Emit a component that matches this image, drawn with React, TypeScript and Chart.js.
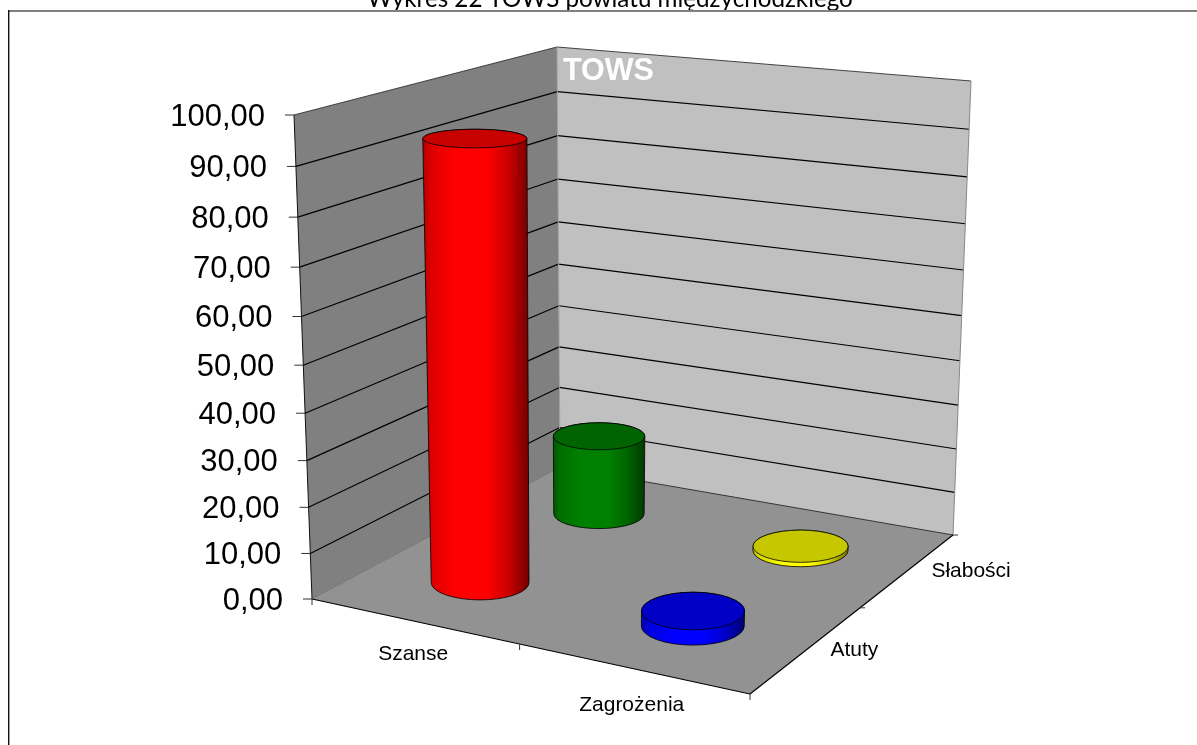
import React, { useEffect, useRef } from "react";
import { Chart, registerables } from "chart.js";

Chart.register(...registerables);

const CATEGORIES = ["Szanse", "Zagrożenia"];
const SERIES = ["Atuty", "Słabości"];
const ATUTY_VALUES = [93.6, 3.2];
const SLABOSCI_VALUES = [18.5, 1.0];
const ATUTY_COLORS = ["#ff0000", "#0000ff"];
const SLABOSCI_COLORS = ["#008000", "#ffff00"];
const TITLE = "Wykres 22 TOWS powiatu międzychodzkiego";
const WALL_LABEL = "TOWS";

type Pt = [number, number];

// Projection of the 3D box: corners of the floor and of the top plane
const FLOOR: Pt[] = [[312, 599], [750, 694], [953, 535], [560, 467]];
const TOP: Pt[] = [[294, 115], [760, 160], [971, 81], [557, 47]];
const PERSPECTIVE_K = 0.07;
const RADIUS = 0.102;

function squareToQuad(q: Pt[]) {
  const [[x0, y0], [x1, y1], [x2, y2], [x3, y3]] = q;
  const dx1 = x1 - x2, dx2 = x3 - x2, sx = x0 - x1 + x2 - x3;
  const dy1 = y1 - y2, dy2 = y3 - y2, sy = y0 - y1 + y2 - y3;
  const det = dx1 * dy2 - dx2 * dy1;
  const g = (sx * dy2 - dx2 * sy) / det;
  const h = (dx1 * sy - sx * dy1) / det;
  const a = x1 - x0 + g * x1, b = x3 - x0 + h * x3;
  const d = y1 - y0 + g * y1, e = y3 - y0 + h * y3;
  return (u: number, v: number): Pt => {
    const w = g * u + h * v + 1;
    return [(a * u + b * v + x0) / w, (d * u + e * v + y0) / w];
  };
}
const floorMap = squareToQuad(FLOOR);
const topMap = squareToQuad(TOP);

function project(u: number, v: number, h: number): Pt {
  const f = floorMap(u, v);
  const t = topMap(u, v);
  const w = h / (1 + PERSPECTIVE_K * (1 - h));
  return [f[0] + (t[0] - f[0]) * w, f[1] + (t[1] - f[1]) * w];
}

function ring(u: number, v: number, h: number) {
  let minX = 1e9, maxX = -1e9, minY = 1e9, maxY = -1e9;
  for (let i = 0; i < 72; i++) {
    const a = (i / 72) * Math.PI * 2;
    const [x, y] = project(u + RADIUS * Math.cos(a), v + RADIUS * Math.sin(a), h);
    minX = Math.min(minX, x); maxX = Math.max(maxX, x);
    minY = Math.min(minY, y); maxY = Math.max(maxY, y);
  }
  return { cx: (minX + maxX) / 2, cy: (minY + maxY) / 2, rx: (maxX - minX) / 2, ry: (maxY - minY) / 2 };
}

function shade(hex: string, f: number) {
  const n = parseInt(hex.slice(1), 16);
  const c = [(n >> 16) & 255, (n >> 8) & 255, n & 255].map((x) => Math.round(x * f));
  return `rgb(${c[0]},${c[1]},${c[2]})`;
}

function poly(ctx: CanvasRenderingContext2D, pts: Pt[], fill: string) {
  ctx.beginPath();
  pts.forEach((p, i) => (i ? ctx.lineTo(p[0], p[1]) : ctx.moveTo(p[0], p[1])));
  ctx.closePath();
  ctx.fillStyle = fill;
  ctx.fill();
}
function seg(ctx: CanvasRenderingContext2D, a: Pt, b: Pt, color: string, w = 1) {
  ctx.beginPath();
  ctx.moveTo(a[0], a[1]);
  ctx.lineTo(b[0], b[1]);
  ctx.strokeStyle = color;
  ctx.lineWidth = w;
  ctx.stroke();
}

function cylinder(ctx: CanvasRenderingContext2D, u: number, v: number, h: number, color: string) {
  const b = ring(u, v, 0);
  const t = ring(u, v, h);
  const left = Math.min(b.cx - b.rx, t.cx - t.rx);
  const right = Math.max(b.cx + b.rx, t.cx + t.rx);
  const g = ctx.createLinearGradient(left, 0, right, 0);
  g.addColorStop(0, shade(color, 0.68));
  g.addColorStop(0.07, shade(color, 0.86));
  g.addColorStop(0.3, shade(color, 1));
  g.addColorStop(0.6, shade(color, 1));
  g.addColorStop(0.8, shade(color, 0.8));
  g.addColorStop(1, shade(color, 0.45));
  ctx.beginPath();
  ctx.ellipse(b.cx, b.cy, b.rx, b.ry, 0, Math.PI, 0, true);
  ctx.lineTo(t.cx + t.rx, t.cy);
  ctx.ellipse(t.cx, t.cy, t.rx, t.ry, 0, 0, -Math.PI, true);
  ctx.closePath();
  ctx.fillStyle = g;
  ctx.fill();
  ctx.strokeStyle = "rgba(0,0,0,0.8)";
  ctx.lineWidth = 1;
  ctx.stroke();
  ctx.beginPath();
  ctx.ellipse(t.cx, t.cy, t.rx, t.ry, 0, 0, Math.PI * 2);
  ctx.fillStyle = shade(color, 0.78);
  ctx.fill();
  ctx.stroke();
}

const scene3d = {
  id: "scene3d",
  beforeDatasetDraw: () => false,
  beforeDatasetsDraw(chart: any) {
    const ctx: CanvasRenderingContext2D = chart.ctx;
    const { x: xs, y: ys, z: zs } = chart.scales;
    const dec = (s: any, px: number) => s.getDecimalForPixel(px);
    ctx.save();

    // title, clipped by the page top, and frame
    ctx.fillStyle = "#000";
    ctx.font = '24.2px "Lato"';
    ctx.textAlign = "center";
    ctx.textBaseline = "alphabetic";
    ctx.fillText(TITLE, 610, 7);
    ctx.fillStyle = "#fff";
    ctx.fillRect(0, 10, 1197, 735);
    ctx.fillStyle = "#808080";
    ctx.fillRect(8, 10, 1189, 2);
    ctx.fillStyle = "#111";
    ctx.fillRect(8, 10, 1.4, 735);

    // walls and floor
    poly(ctx, [project(0, 0, 0), project(0, 1, 0), project(0, 1, 1), project(0, 0, 1)], "#808080");
    poly(ctx, [project(0, 1, 0), project(1, 1, 0), project(1, 1, 1), project(0, 1, 1)], "#c0c0c0");
    poly(ctx, [project(0, 0, 0), project(1, 0, 0), project(1, 1, 0), project(0, 1, 0)], "#929292");

    ctx.font = '31px "Liberation Sans"';
    ctx.textAlign = "right";
    ctx.textBaseline = "middle";
    for (const tick of ys.ticks) {
      const h = dec(ys, ys.getPixelForValue(tick.value));
      const p0 = project(0, 0, h), p1 = project(0, 1, h), p2 = project(1, 1, h);
      const inner = h > 0 && h < 1;
      if (h > 0) {
        seg(ctx, p0, p1, inner ? "#000" : "#444", 1.2);
        seg(ctx, p1, p2, inner ? "#000" : "#444", 1.2);
      }
      seg(ctx, p0, [p0[0] - 9, p0[1]], "#333");
      ctx.fillStyle = "#000";
      ctx.fillText(tick.label, p0[0] - 29, p0[1] + 2);
    }
    // box edges
    seg(ctx, project(0, 0, 0), project(0, 0, 1), "#111");
    seg(ctx, project(0, 1, 0), project(0, 1, 1), "#a0a0a0");
    seg(ctx, project(1, 1, 0), project(1, 1, 1), "#888");
    seg(ctx, project(0, 0, 0), project(0, 1, 0), "#777");
    seg(ctx, project(0, 1, 0), project(1, 1, 0), "#333");
    seg(ctx, project(0, 0, 0), project(1, 0, 0), "#000", 1.2);
    seg(ctx, project(1, 0, 0), project(1, 1, 0), "#000", 1.2);

    // axis ticks
    for (const u of [0, 0.5, 1]) {
      const p = project(u, 0, 0);
      seg(ctx, p, [p[0], p[1] + 6], "#333");
    }
    for (const v of [0.5, 1]) {
      const p = project(1, v, 0);
      seg(ctx, p, [p[0] + 5, p[1]], "#333");
    }

    // axis labels
    ctx.font = '21px "Liberation Sans"';
    ctx.textAlign = "center";
    ctx.fillStyle = "#000";
    CATEGORIES.forEach((label, i) => {
      const u = dec(xs, xs.getPixelForValue(i));
      const p = project(u, 0, 0);
      ctx.fillText(label, p[0], p[1] + 31 + 8 * u);
    });
    ctx.textAlign = "left";
    SERIES.forEach((label, i) => {
      const p = project(1, dec(zs, zs.getPixelForValue(i)), 0);
      ctx.fillText(label, p[0] + 23, p[1] + 1);
    });

    ctx.font = 'bold 30.5px "Liberation Sans"';
    ctx.textBaseline = "alphabetic";
    ctx.fillStyle = "#fff";
    ctx.fillText(WALL_LABEL, 563, 80);

    // cylinders, back row first
    for (let ds = chart.data.datasets.length - 1; ds >= 0; ds--) {
      const dataset = chart.data.datasets[ds];
      const v = dec(zs, zs.getPixelForValue(ds));
      dataset.data.forEach((val: number, i: number) => {
        const u = dec(xs, xs.getPixelForValue(i));
        const h = dec(ys, ys.getPixelForValue(val));
        cylinder(ctx, u, v, h, dataset.backgroundColor[i]);
      });
    }
    ctx.restore();
  },
};

export default function App() {
  const ref = useRef<HTMLCanvasElement>(null);
  useEffect(() => {
    const chart = new Chart(ref.current as HTMLCanvasElement, {
      type: "bar",
      data: {
        labels: CATEGORIES,
        datasets: [
          { label: SERIES[0], data: ATUTY_VALUES, backgroundColor: ATUTY_COLORS },
          { label: SERIES[1], data: SLABOSCI_VALUES, backgroundColor: SLABOSCI_COLORS },
        ],
      },
      options: {
        animation: false,
        responsive: false,
        layout: { padding: { left: 312, right: 447, top: 115, bottom: 146 } },
        plugins: { legend: { display: false }, tooltip: { enabled: false }, title: { display: false } },
        scales: {
          x: { type: "category", offset: true, display: false },
          z: { type: "category", axis: "x", position: "bottom", labels: SERIES, offset: true, display: false },
          y: {
            type: "linear",
            min: 0,
            max: 100,
            display: false,
            ticks: { stepSize: 10, callback: (v: any) => Number(v).toFixed(2).replace(".", ",") },
          },
        },
      },
      plugins: [scene3d],
    } as any);
    return () => chart.destroy();
  }, []);
  return (
    <canvas
      ref={ref}
      width={1197}
      height={745}
      style={{ position: "absolute", left: 0, top: 0, display: "block" }}
    />
  );
}
